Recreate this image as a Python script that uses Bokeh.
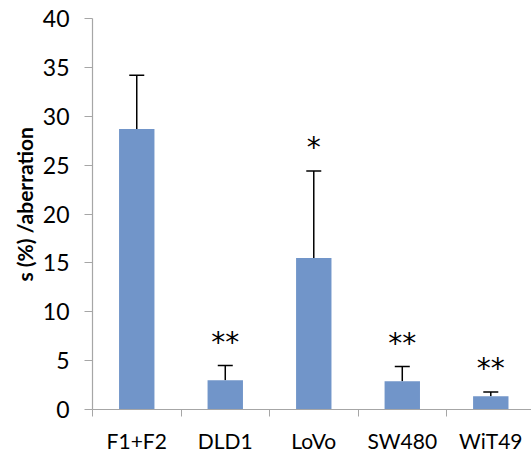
from bokeh.plotting import figure
from bokeh.models import (ColumnDataSource, Range1d, FixedTicker, Whisker, TeeHead, Title)
from bokeh.core.properties import value
from bokeh.embed import file_html
from bokeh.resources import INLINE

categories = ["F1+F2", "DLD1", "LoVo", "SW480", "WiT49"]
means = [28.7, 3.0, 15.5, 2.9, 1.35]
errors = [5.5, 1.5, 8.9, 1.5, 0.45]
stars = ["", "**", "*", "**", "**"]
y_ticks = [0, 5, 10, 15, 20, 25, 30, 35, 40]
y_label = "s (%) /aberration"

centers = [i + 0.5 for i in range(len(categories))]
upper = [m + e for m, e in zip(means, errors)]
star_y = [u + 2.4 for u in upper]

src = ColumnDataSource(dict(x=centers, top=means, lower=means, upper=upper,
                            star=stars, star_y=star_y))

p = figure(width=531, height=455, output_backend="svg", toolbar_location=None,
           x_range=Range1d(0, 4.96), y_range=Range1d(0, 40),
           min_border_left=92, min_border_right=0, min_border_top=18,
           min_border_bottom=45)
p.outline_line_color = None
p.xgrid.grid_line_color = None
p.ygrid.grid_line_color = None
p.background_fill_color = "white"
p.border_fill_color = "white"

p.vbar(x="x", top="top", width=0.4, bottom=0, source=src,
       fill_color="#7195c9", line_color=None)

w = Whisker(source=src, base="x", upper="upper", lower="lower",
            line_color="black", line_width=1.5, lower_head=None,
            upper_head=TeeHead(size=15, line_color="black", line_width=1.5))
p.add_layout(w)

p.text(x="x", y="star_y", text="star", source=src, text_align="center",
       text_baseline="middle", text_font=value("DejaVu Sans"),
       text_font_size="28px", text_color="black")

ax = p.xaxis[0]
ax.ticker = FixedTicker(ticks=centers, minor_ticks=list(range(len(categories) + 1)))
ax.major_label_overrides = {c: n for c, n in zip(centers, categories)}
ax.major_tick_line_color = None
ax.minor_tick_line_color = "#a6a6a6"
ax.minor_tick_out = 7
ax.minor_tick_in = 0
ax.axis_line_color = "#a6a6a6"
ax.axis_line_width = 1.2
ax.major_label_text_font = "Lato"
ax.major_label_text_font_size = "21px"
ax.major_label_text_color = "black"
ax.major_label_standoff = 11

ay = p.yaxis[0]
ay.ticker = FixedTicker(ticks=y_ticks)
ay.minor_tick_line_color = None
ay.major_tick_out = 8
ay.major_tick_in = 0
ay.major_tick_line_color = "#a6a6a6"
ay.axis_line_color = "#a6a6a6"
ay.axis_line_width = 1.2
ay.major_label_text_font = "Lato"
ay.major_label_text_font_size = "23px"
ay.major_label_text_color = "black"
ay.major_label_standoff = 15

t = Title(text=y_label, align="left", offset=128, standoff=6,
          text_font="Lato", text_font_style="bold", text_font_size="21px",
          text_color="black")
p.add_layout(t, "left")

open("out.html", "w").write(file_html(p, INLINE))
